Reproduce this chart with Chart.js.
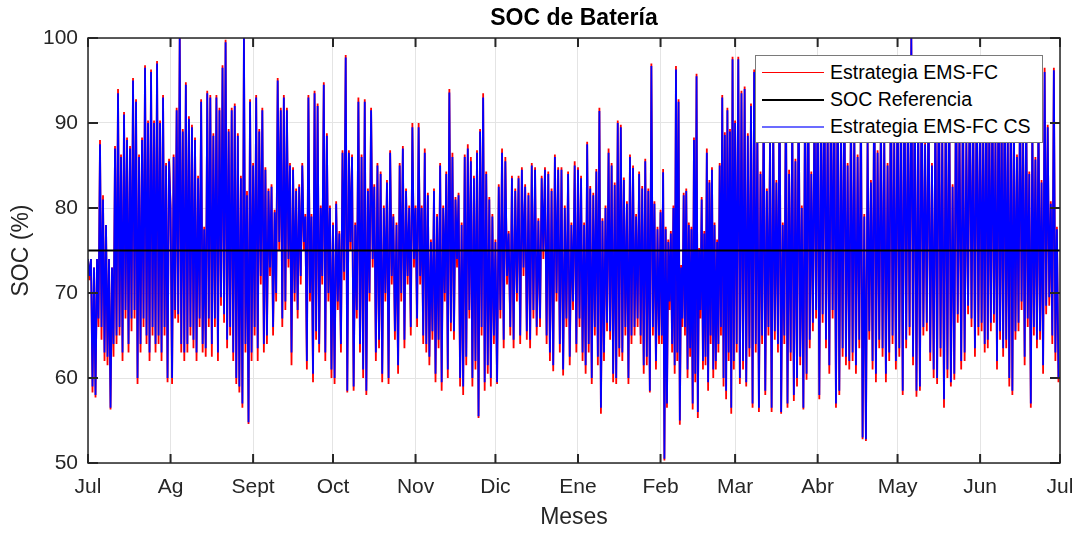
<!DOCTYPE html>
<html>
<head>
<meta charset="utf-8">
<script src="https://cdn.jsdelivr.net/npm/chart.js@4/dist/chart.umd.min.js"></script>
<style>
  body { margin: 0; background: #fff; font-family: "Liberation Sans", Arial, sans-serif; }
  #wrap { position: relative; width: 1077px; height: 533px; }
  #titulo { position: absolute; left: 88px; width: 972px; top: 4px; text-align: center;
            font-weight: bold; font-size: 23px; color: #000; }
  #leyenda { position: absolute; left: 755px; top: 55px; width: 286px; height: 86px;
             background: #fff; border: 1px solid #7a7a7a; font-size: 19.5px; color: #000; }
  .fila { position: absolute; left: 0; height: 27px; line-height: 27px; white-space: nowrap; }
  .fila span.l { position: absolute; left: 6px; width: 62px; top: 13px; }
  .fila span.t { position: absolute; left: 74px; }
</style>
</head>
<body>
<div id="wrap">
  <canvas id="myChart" width="1077" height="533"></canvas>
  <div id="titulo">SOC de Batería</div>
  <div id="leyenda"></div>
</div>
<script>
// Etiquetas y dias de cada mes (Jul -> Jun)
var meses = ["Jul", "Ag", "Sept", "Oct", "Nov", "Dic", "Ene", "Feb", "Mar", "Abr", "May", "Jun", "Jul"];
var diasMes = [31, 31, 30, 31, 30, 31, 31, 28, 31, 30, 31, 30];
var yTicks = [50, 60, 70, 80, 90, 100];
var socRef = 75;
var nombres = ["Estrategia EMS-FC", "SOC Referencia", "Estrategia EMS-FC CS"];

// Estrategia EMS-FC CS (azul), picos y valles leidos por mes
var csJul = [74,72,74,59,73,58,74,67,87.5,66,81,63,78,62.5,74,56.5,73,64,87,65,93.5,66,86,63,91,68,88,64,87,67,95,68,92.5,60,86,64,88,67,96.5,65,90,63,96,66,90,64,97,65,90,63,93,66,85,60,85.5];
var csAgo = [80,60,86,68,91.5,67.5,100,64,89,63,94.5,64,90.5,66,89.5,64.5,88,63,83.5,67,92.5,64,77.5,63.5,93.5,67,93,64,88.5,67,93,63,91.5,69.5,96.5,67.5,99.5,64.5,89,66,91.5,63,92,60,88.5,59,83.5,57,100,64,81.5,54.8,92.5,63];
var csSep = [85,66,93,63.5,89,72,91.5,64,84.5,65,82,73,82.5,66,79.5,70,95,76,91.5,67,93,69,91.5,74,85,63,84.5,70,82,68,82.5,72,85,76,79,62,93,70,79,60.5,93.5,65.5,92,64,80,72,94.5,63,88.5,70,80,61];
var csOct = [78,60,80.5,69,77,64,86.5,72.5,97.7,58.5,86.5,76,86,59,78,68,92.5,64,86,61,92.5,58.5,82,70,91.5,74,82.5,63,85,64.5,84,60.5,80,70,83,60,86.5,72,79,65.5,78,61.5,85,70,87,64.5,82,72,80,66,89.5,74];
var csNov = [80,67,89.5,72,80,65,86.5,64,81.5,62.5,76,65.5,82,60.5,79,64.5,85,59.5,80,70,84,61,93.6,66.5,86,65.5,81,74,81.5,60,78,59,86,62.5,87,68,85.5,60,83.5,62,86.5,55.5,89,66,93,59.5,84,61.5,81,60,79,65];
var csDic = [76,59.5,82.5,68,86.5,64.5,85.5,72,77,66,83.5,64.5,82,70,83.5,65,84.5,73,82.5,65.5,81.5,64.5,85,68,84.5,66,78.5,67,83.5,75,84.5,65,84,63,82,61.5,86,70,84.5,64,84.5,61,80,67,84,62.5,78,69,85,64];
var csEne = [84.5,67,83.5,63,78,61.5,87.5,64,82.3,60,81.5,66,84.3,62.5,91.4,56.5,78.5,63,80,66.5,86.5,65.5,85,60.5,82.7,60,90,63.5,89.5,63,83.3,66,80.5,60,86,65,84.7,66,79,67,84,65,82.3,61.5,85.5,62.5,82,58.5,96.7,66,80.5,62,77.5,65];
var csFeb = [79.5,65,84.2,50.5,77.5,57,76,69,77,64,80,61.5,96.3,63,92.5,55,73,67,81.5,66,82,61,78,63.5,77.5,57,88,60.5,95.5,56,75,68,81,62,77,62.5,86.5,59.5,83,65,84.5,61,78,62,76,64,85,66,93,60,88.6,58.5,91.5,63,89,56.5,97.5,62];
var csMar = [90,64,97.5,60,93.5,62,94,59.5,88.5,63.5,92,57,96,64,89,56.5,84,65,93,58.5,82,66,88,56.5,90,65.5,83,64,96,56,78,65,94,57,84,63,91,58,85.5,60,95,62.5,80,56.5,92,60.5,97,64.5,84,66.5,93,68];
var csAbr = [95,58,92,67.5,97,64.5,90,61.5,96,68,93,57,96.5,58.5,89,63.5,97,62.5,85,62,92,63,89.5,61.5,86,64.5,92.5,53,79,52.8,88,65.5,83,62,96,60.5,86.5,64.5,91,63.5,88.5,60.5,85,63,97,65,88,62];
var csMay = [96,63.5,93,58.5,97,64.5,91,66,100,62.5,95,58.5,91,59,97,66,87.5,66.5,94,63,85,61,92,60,97,63.5,89,57.5,93,61,96,59.5,82.5,60.5,96.5,67.5,89.5,62,94,63,88,68.5,96,67,91,63.5,95,66];
var csJun = [92,66.5,89,64,96,64.5,90,66.5,94,67.5,88,62,96.5,65.5,91,63.5,95,64.5,89,60,93,58.5,90,65.5,86,66.5,94,69,88,62.5,92,67,84,57,90,66,85.7,64.5,91,65.5,83,61.5,96,68.5,89.5,69.5,80.5,65,96.2,63,77.5,60];

// Estrategia EMS-FC (rojo)
var fcJul = [74,71.5,74,58.3,73,57.7,74,66,88,64.5,81.5,62,78,61.5,74,56.3,73,62.5,87.3,64,94,65,86.3,62,91.3,67,88.3,63,87.3,65.5,95.3,67,92.8,59.3,86.3,63,88.3,66,96.8,64,90.3,62,96.3,65,90.3,63,97.3,64,90.3,62,93.3,65,85.3,59.5,85.8];
var fcAgo = [80.3,59.3,86.3,67,91.8,66.5,100,63,89.3,62,94.8,63,90.8,65,89.8,63.5,88.3,62,83.8,66,92.8,63,77.8,62.5,93.8,66,93.3,62.5,88.8,66,93.3,62,91.8,68.5,96.8,66.5,99.8,63.5,89.3,65,91.8,62,92.3,59.3,88.8,58.3,83.8,56.5,100,63,82,54.6,92.8,62];
var fcSep = [85.3,65,93.3,62,89.3,71,91.8,63,84.8,64,82.3,72,82.8,65,79.8,69,95.3,75,91.8,66,93.3,68,91.8,73,85.3,61.5,84.8,69,82.3,67,82.8,71,85.3,75,79.3,61,93.3,69,79.3,59.5,93.8,64.5,92.3,63,80.3,71,94.8,62,88.8,69,80.3,60];
var fcOct = [78.3,59.3,80.8,68,77.3,63,86.8,71.5,98,58.3,86.8,75,86.3,58.5,78.3,67,93,63,86.3,60,92.8,58,82.3,69,91.8,73,82.8,62,85.3,63.5,84.3,59.5,80.3,69,83.3,59.3,86.8,71,79.3,64.5,78.3,60.5,85.3,69,87.3,63.5,82.3,71,80.3,65,90,73];
var fcNov = [80.3,66,90,71,80.3,64,87,63,81.8,61.5,76.3,64.5,82.3,59.5,79.3,63.5,85.3,58.5,80.3,69,84.3,60,94,65.5,86.5,64.5,81.3,73,81.8,59,78.3,58,86.3,61.5,87.5,67,86,59,83.8,61,86.8,55.3,89.3,65,93.5,58.5,84.3,60.5,81.3,59,79.3,64];
var fcDic = [76.3,59.3,82.8,67,87,63.5,86,71,77.3,65,83.8,63.5,82.3,69,83.8,64,84.8,72,82.8,64.5,81.8,63.5,85.3,67,84.8,65,78.8,66,83.8,74,84.8,64,84.3,62,82.3,60.8,86.3,69,84.8,63,84.8,60.3,80.3,66,84.3,61.5,78.3,68,85.5,63];
var fcEne = [84.8,66,83.8,62,78.3,60.5,87.8,63,82.6,59.3,81.8,65,84.6,61.5,91.8,55.8,78.8,62,80.3,65.5,87,64.5,85.3,59.5,83,59.3,90.3,62.5,89.8,62,83.6,65,80.8,59.3,86.3,64,85,65,79.3,66,84.3,64,82.6,60.5,85.8,61.5,82.3,58.3,97,65,80.8,61,77.8,64];
var fcFeb = [79.8,64,84.6,50.3,77.8,56.5,76.3,68,77.3,63,80.3,60.5,96.7,62,92.8,54.5,73.3,66,81.8,65,82.3,60,78.3,62.5,77.8,56.3,88.3,59.5,95.8,55.3,75.3,67,81.3,61,77.3,61.5,87,58.5,83.3,64,84.8,60,78.3,61,76.3,63,85.3,65,93.3,59,88.9,57.5,91.8,62,89.3,55.8,97.8,61];
var fcMar = [90.3,63,97.8,59.3,93.8,61,94.3,59,88.8,62.5,92.3,56.5,96.3,63,89.3,56,84.3,64,93.3,58,82.3,65,88.3,56,90.3,64.5,83.3,63,96.3,55.8,78.3,64,94.3,56.5,84.5,62,91.3,57.3,85.8,59,95.3,61.5,80.3,56.3,92.3,59.8,97.3,63.5,84.3,65.5,93.3,67];
var fcAbr = [95.3,57.5,92.3,66.5,97.3,63.5,90.3,60.5,96.3,67,93.3,56.5,96.8,58,89.3,62.5,97.3,61.5,85.3,61,92.3,62,89.8,60.5,86.3,63.5,92.8,52.8,79.3,52.6,88.3,64.5,83.3,61,96.3,59.5,86.8,63.5,91.3,62.5,88.8,59.5,85.3,62,97.3,64,88.3,61];
var fcMay = [96.3,62.5,93.3,58,97.3,63.5,91.3,65,100,61.5,95.3,57.8,91.3,58.5,97.3,65,87.8,65.5,94.3,62,85.3,60,92.3,59.3,97.3,62.5,89.3,56.5,93.3,60,96.3,59,82.8,59.8,96.8,66.5,89.8,61,94.3,62,88.3,67.5,96.3,66,91.3,62.5,95.3,65];
var fcJun = [92.3,65.5,89.3,63,96.3,63.5,90.3,65.5,94.3,66.5,88.3,61,96.8,64.5,91.3,62.5,95.3,63.5,89.3,59,93.3,58,90.3,64.5,86.3,65.5,94.3,68,88.3,61.5,92.3,66,84.3,56.5,90.3,65,86,63.5,91.3,64.5,83.3,60.5,96.5,67.5,89.8,68.5,80.8,64,96.5,62,77.8,59.5];

var csMeses = [csJul, csAgo, csSep, csOct, csNov, csDic, csEne, csFeb, csMar, csAbr, csMay, csJun];
var fcMeses = [fcJul, fcAgo, fcSep, fcOct, fcNov, fcDic, fcEne, fcFeb, fcMar, fcAbr, fcMay, fcJun];

// dia de inicio de cada mes
var inicioMes = [0];
for (var i = 0; i < diasMes.length; i++) inicioMes.push(inicioMes[i] + diasMes[i]);

function puntos(lista) {
  var pts = [];
  lista.forEach(function (vals, m) {
    vals.forEach(function (v, i) {
      pts.push({ x: inicioMes[m] + (i * diasMes[m]) / vals.length, y: v });
    });
  });
  return pts;
}

// caja y marcas hacia dentro, estilo matlab
var cajaPlugin = {
  id: "caja",
  afterDraw: function (chart) {
    var ctx = chart.ctx, a = chart.chartArea;
    var xs = chart.scales.x, ys = chart.scales.y;
    ctx.save();
    ctx.strokeStyle = "#262626";
    ctx.lineWidth = 1.5;
    ctx.strokeRect(a.left, a.top, a.right - a.left, a.bottom - a.top);
    ctx.lineWidth = 2;
    ctx.beginPath();
    yTicks.forEach(function (v) {
      var y = ys.getPixelForValue(v);
      ctx.moveTo(a.left, y); ctx.lineTo(a.left + 10, y);
      ctx.moveTo(a.right, y); ctx.lineTo(a.right - 10, y);
    });
    inicioMes.forEach(function (d) {
      var x = xs.getPixelForValue(d);
      ctx.moveTo(x, a.bottom); ctx.lineTo(x, a.bottom - 9);
      ctx.moveTo(x, a.top); ctx.lineTo(x, a.top + 9);
    });
    ctx.stroke();
    ctx.restore();
  },
};

var colores = ["#ff0000", "#000000", "#0000ff"];

new Chart("myChart", {
  type: "line",
  data: {
    datasets: [
      { label: nombres[0], data: puntos(fcMeses), borderColor: colores[0], borderWidth: 1.8, pointRadius: 0, tension: 0, order: 3 },
      { label: nombres[2], data: puntos(csMeses), borderColor: colores[2], borderWidth: 1.8, pointRadius: 0, tension: 0, order: 2 },
      { label: nombres[1], data: [{ x: 0, y: socRef }, { x: inicioMes[12], y: socRef }], borderColor: colores[1], borderWidth: 2, pointRadius: 0, order: 1 },
    ],
  },
  options: {
    responsive: false,
    animation: false,
    devicePixelRatio: 1,
    layout: { padding: { left: 0, right: 17, top: 38, bottom: 0 } },
    plugins: { legend: { display: false }, title: { display: false }, tooltip: { enabled: false } },
    scales: {
      x: {
        type: "linear",
        min: 0,
        max: 365,
        afterBuildTicks: function (s) { s.ticks = inicioMes.map(function (d) { return { value: d }; }); },
        afterFit: function (s) { s.height = 70; s.paddingLeft = 0; s.paddingRight = 0; },
        ticks: {
          padding: 12,
          autoSkip: false,
          maxRotation: 0,
          color: "#262626",
          font: { family: "Liberation Sans", size: 21 },
          callback: function (v, idx) { return meses[idx]; },
        },
        grid: { color: "#e4e4e4", lineWidth: 1, drawTicks: false },
        border: { display: false },
        title: { display: true, text: "Meses", color: "#262626", font: { family: "Liberation Sans", size: 23 }, padding: { top: 2, bottom: 2 } },
      },
      y: {
        min: 50,
        max: 100,
        afterBuildTicks: function (s) { s.ticks = yTicks.map(function (v) { return { value: v }; }); },
        afterFit: function (s) { s.width = 88; },
        ticks: { padding: 10, color: "#262626", font: { family: "Liberation Sans", size: 21 } },
        grid: { color: "#e4e4e4", lineWidth: 1, drawTicks: false },
        border: { display: false },
        title: { display: true, text: "SOC (%)", color: "#262626", font: { family: "Liberation Sans", size: 23 }, padding: { top: 8, bottom: 8 } },
      },
    },
  },
  plugins: [cajaPlugin],
});

// leyenda dentro del area, arriba a la derecha
var ley = document.getElementById("leyenda");
var estilos = ["1px solid #ff0000", "2px solid #000000", "2px solid #6b6bff"];
var orden = [0, 1, 2];
orden.forEach(function (k, r) {
  var fila = document.createElement("div");
  fila.className = "fila";
  fila.style.top = (3 + r * 27) + "px";
  fila.innerHTML = '<span class="l" style="border-top:' + estilos[k] + '"></span><span class="t">' + nombres[k] + "</span>";
  ley.appendChild(fila);
});
</script>
</body>
</html>
